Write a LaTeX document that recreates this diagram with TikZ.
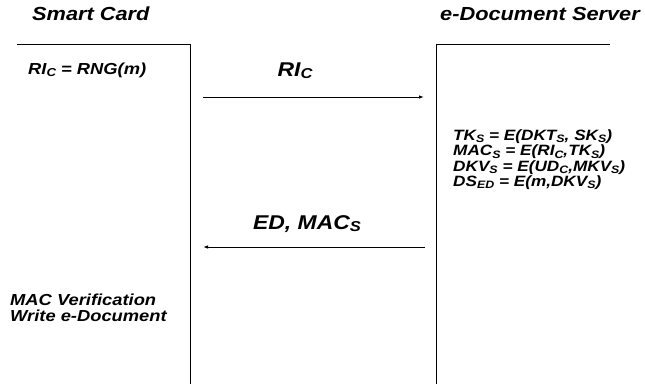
\documentclass[tikz,border=0pt]{standalone}
\usepackage{fontspec}
\usetikzlibrary{arrows.meta}
\newfontfamily\arialbi{Liberation Sans Bold Italic}[FakeStretch=1.15]
\makeatletter
\newcommand\subs[1]{\raisebox{-0.28ex}{\fontsize{\fpeval{0.72*\f@size}}{1}\selectfont #1}}
\makeatother
\begin{document}
\begin{tikzpicture}[x=1bp,y=-1bp,
  title/.style={anchor=base west,inner sep=0pt,font=\fontsize{19}{20}\arialbi},
  body/.style={anchor=base west,inner sep=0pt,align=left,font=\fontsize{16}{16}\arialbi},
  srvtext/.style={body,font=\fontsize{15}{15.4}\arialbi},
  msg/.style={anchor=base,inner sep=0pt,font=\fontsize{20}{20}\arialbi},
  life/.style={line width=1bp},
  arr/.style={line width=0.9bp,-{Latex[length=5bp,width=3.5bp]}}]
\useasboundingbox (0,0) rectangle (645,384);
% titles
\node[title] (tsc) at (32,20) {Smart Card};
\node[title] (tes) at (440,20) {e-Document Server};
% lifelines
\coordinate (sctl) at (17,44);
\coordinate (sctr) at (190,44);
\coordinate (scb) at (190,384);
\coordinate (estl) at (436,44);
\coordinate (estr) at (610,44);
\coordinate (esb) at (436,384);
\draw[life] (sctl) -- (sctr) -- (scb);
\draw[life] (estr) -- (estl) -- (esb);
% texts
\node[body] (rng) at (28,74) {RI\subs{C} = RNG(m)};
\node[srvtext] (srv) at (453,186.5) {TK\subs{S} = E(DKT\subs{S}, SK\subs{S})\\MAC\subs{S} = E(RI\subs{C},TK\subs{S})\\DKV\subs{S} = E(UD\subs{C},MKV\subs{S})\\DS\subs{ED} = E(m,DKV\subs{S})};
\node[body] (ver) at (10,321) {MAC Verification\\Write e-Document};
% messages
\coordinate (a1s) at (203,97);
\coordinate (a1e) at (424,97);
\coordinate (a2s) at (425,247);
\coordinate (a2e) at (203,247);
\draw[arr] (a1s) -- (a1e);
\draw[arr] (a2s) -- (a2e);
\node[msg] (m1) at (295,76) {RI\subs{C}};
\node[msg] (m2) at (307,229) {ED, MAC\subs{S}};
\end{tikzpicture}
\end{document}
